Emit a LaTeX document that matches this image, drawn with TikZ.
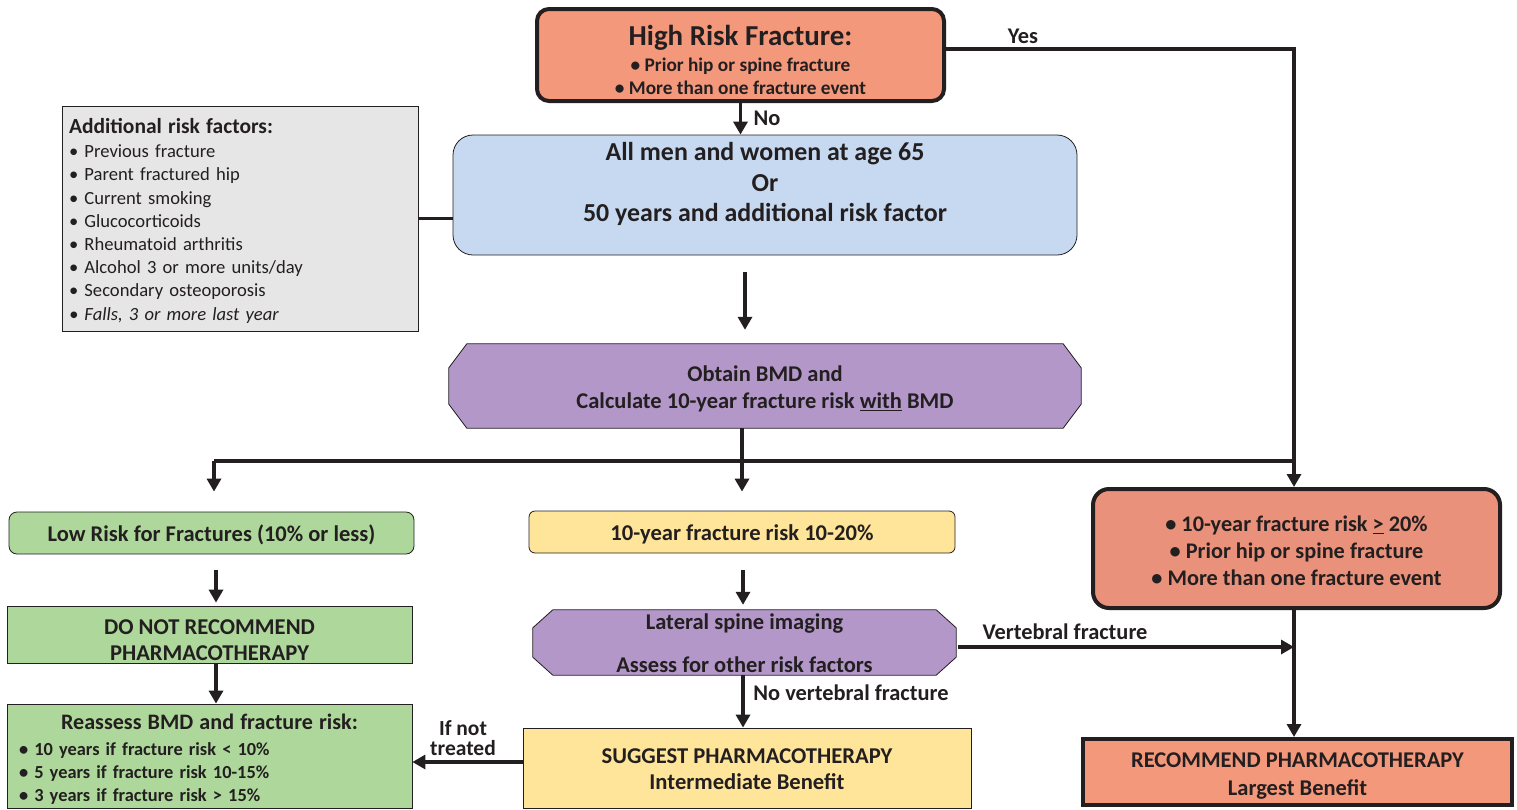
\documentclass[tikz,border=0pt]{standalone}
\usepackage{fontspec}
\setmainfont{Carlito}
\usetikzlibrary{arrows.meta,calc}
\definecolor{ink}{HTML}{231F20}
\definecolor{salmonA}{HTML}{F4987B}
\definecolor{salmonB}{HTML}{E9917A}
\definecolor{bluefill}{HTML}{C6D9F0}
\definecolor{grayfill}{HTML}{E7E6E6}
\definecolor{purplefill}{HTML}{B397C9}
\definecolor{greenfill}{HTML}{AED89B}
\definecolor{yellowfill}{HTML}{FFE599}
\newcommand{\fs}[2]{\fontsize{#1}{#2}\selectfont}
\pgfdeclarelayer{bg}
\pgfsetlayers{bg,main}
\newcommand{\octo}[3]{%
  \filldraw[fill=purplefill,draw=ink,line width=0.8pt]
    ($(#1.north west)+(#2,0)$) -- ($(#1.north east)+(-#2,0)$) --
    ($(#1.north east)+(0,#3)$) -- ($(#1.south east)+(0,-#3)$) --
    ($(#1.south east)+(-#2,0)$) -- ($(#1.south west)+(#2,0)$) --
    ($(#1.south west)+(0,-#3)$) -- ($(#1.north west)+(0,#3)$) -- cycle;}
\begin{document}
\begin{tikzpicture}[x=1pt,y=-1pt,
  conn/.style={draw=ink,line width=3.5pt},
  arr/.style={conn,-{Triangle[length=13pt,width=14pt]}},
  thinbox/.style={draw=ink,line width=0.8pt,text=ink,inner sep=0pt,align=center},
  thickbox/.style={draw=ink,line width=4pt,text=ink,inner sep=0pt,align=center},
  octnode/.style={inner sep=0pt,text=ink,align=center},
  lbl/.style={text=ink,font=\bfseries\fs{22.4}{20},inner sep=0pt,align=center}
]
\useasboundingbox (0,0) rectangle (1517,809);

% boxes
\node[thickbox,fill=salmonA,rounded corners=12pt,minimum width=407pt,minimum height=92pt,
  font=\bfseries\fs{19.3}{23},text height=79.6pt,text depth=0pt] (top) at (740.5,55)
  {{\fs{28.9}{26}High Risk Fracture:}\\[3pt] • Prior hip or spine fracture\\ • More than one fracture event};

\node[thinbox,fill=bluefill,rounded corners=20pt,minimum width=624pt,minimum height=120pt,
  font=\bfseries\fs{25.9}{30.5},text height=53pt,text depth=0pt] (blue) at (765,195)
  {All men and women at age 65\\Or\\50 years and additional risk factor};

\node[draw=ink,line width=0.8pt,fill=grayfill,text=ink,inner xsep=7pt,inner ysep=0pt,
  text width=342pt,align=left,minimum width=356pt,minimum height=225pt,
  font=\fs{18.6}{23.2},text height=20pt,text depth=190pt] (gray) at (240,218.5)
  {{\bfseries\fs{21.5}{23.2}Additional risk factors:}\\[1pt]
   • Previous fracture\\ • Parent fractured hip\\ • Current smoking\\ • Glucocorticoids\\
   • Rheumatoid arthritis\\ • Alcohol 3 or more units/day\\ • Secondary osteoporosis\\
   \textit{• Falls, 3 or more last year}};

\node[octnode,minimum width=632pt,minimum height=84pt,font=\bfseries\fs{22.5}{27},
  text height=45.6pt,text depth=0pt] (oct1) at (765,386)
  {Obtain BMD and\\Calculate 10-year fracture risk \underline{with} BMD};

\node[thinbox,fill=greenfill,rounded corners=8pt,minimum width=405pt,minimum height=42pt,
  font=\bfseries\fs{22.5}{22},text height=17.5pt,text depth=0pt] (low) at (211.5,533)
  {Low Risk for Fractures (10\% or less)};

\node[thinbox,fill=yellowfill,rounded corners=6pt,minimum width=426pt,minimum height=42pt,
  font=\bfseries\fs{22.6}{22},text height=17.6pt,text depth=0pt] (yel) at (742,532)
  {10-year fracture risk 10-20\%};

\node[thickbox,fill=salmonB,rounded corners=16pt,minimum width=407pt,minimum height=119pt,
  font=\bfseries\fs{22.3}{27},text height=74.4pt,text depth=0pt] (rbox) at (1296.5,548.5)
  {• 10-year fracture risk \underline{>} 20\%\\ • Prior hip or spine fracture\\ • More than one fracture event};

\node[thinbox,fill=greenfill,minimum width=405pt,minimum height=57pt,
  font=\bfseries\fs{22.6}{26},text height=52.6pt,text depth=0pt] (donot) at (209.5,634.5)
  {DO NOT RECOMMEND\\PHARMACOTHERAPY};

\node[draw=ink,line width=0.8pt,fill=greenfill,text=ink,inner xsep=12pt,inner ysep=0pt,
  text width=381pt,align=left,minimum width=405pt,minimum height=104pt,
  font=\bfseries\fs{18.4}{23},text height=20pt,text depth=73pt] (reass) at (209.5,756)
  {\makebox[381pt][c]{\fs{22.1}{23}Reassess BMD and fracture risk:}\\[3pt]
   • 10 years if fracture risk < 10\%\\ • 5 years if fracture risk 10-15\%\\ • 3 years if fracture risk > 15\%};

\node[octnode,minimum width=423pt,minimum height=65pt,font=\bfseries\fs{22.5}{43},
  text height=60.6pt,text depth=0pt] (lat) at (744.5,642.5)
  {Lateral spine imaging\\Assess for other risk factors};

\node[thinbox,fill=yellowfill,minimum width=448pt,minimum height=80pt,
  font=\bfseries\fs{22.6}{26},text height=43.6pt,text depth=0pt] (sug) at (747,768)
  {SUGGEST PHARMACOTHERAPY\\Intermediate Benefit};

\node[thickbox,fill=salmonA,minimum width=429pt,minimum height=66pt,
  font=\bfseries\fs{22.5}{28},text height=47.6pt,text depth=0pt] (rec) at (1297.5,772)
  {RECOMMEND PHARMACOTHERAPY\\Largest Benefit};

\begin{pgfonlayer}{bg}
  \octo{oct1}{18}{24}
  \octo{lat}{20}{18}
\end{pgfonlayer}

% labels
\node[lbl] (lyes) at (1023,36) {Yes};
\node[lbl] (lno) at (767,118) {No};
\node[lbl] (lvert) at (1065,632) {Vertebral fracture};
\node[lbl] (lnovert) at (851,693) {No vertebral fracture};
\node[lbl,font=\bfseries\fs{21.5}{20}] (lifnot) at (463,738) {If not\\treated};

% helper coordinates
\coordinate (xr) at (1294,0);
\coordinate (xl) at (214,0);
\coordinate (xl2) at (216,0);
\coordinate (xa) at (745,0);
\coordinate (xm) at (742,0);
\coordinate (xc) at (743,0);
\coordinate (yesY) at (0,49);
\coordinate (brY) at (0,461);
\coordinate (vertY) at (0,647);
\coordinate (ifY) at (0,762);

% connectors
\draw[arr] (top.east |- yesY) -- (xr |- yesY) -- (xr |- rbox.north);
\draw[arr] (top.south) -- (top.south |- blue.north);
\draw[conn] (gray.east) -- (gray.east -| blue.west);
\draw[arr,shorten <=17pt,shorten >=14pt] (xa |- blue.south) -- (xa |- oct1.north);
\draw[conn] (xl |- brY) -- (xr |- brY);
\draw[arr,shorten >=19pt] (xm |- oct1.south) -- (xm |- yel.north);
\draw[arr,shorten >=20pt] (xl |- brY) -- (xl |- low.north);
\draw[arr,shorten <=16pt,shorten >=3pt] (xl2 |- low.south) -- (xl2 |- donot.north);
\draw[arr] (xl2 |- donot.south) -- (xl2 |- reass.north);
\draw[arr,shorten <=17pt,shorten >=5pt] (xc |- yel.south) -- (xc |- lat.north);
\draw[arr] (xc |- lat.south) -- (xc |- sug.north);
\draw[arr,shorten <=2pt] (lat.east |- vertY) -- (xr |- vertY);
\draw[arr] (xr |- rbox.south) -- (xr |- rec.north);
\draw[arr] (sug.west |- ifY) -- (reass.east |- ifY);
\end{tikzpicture}
\end{document}
